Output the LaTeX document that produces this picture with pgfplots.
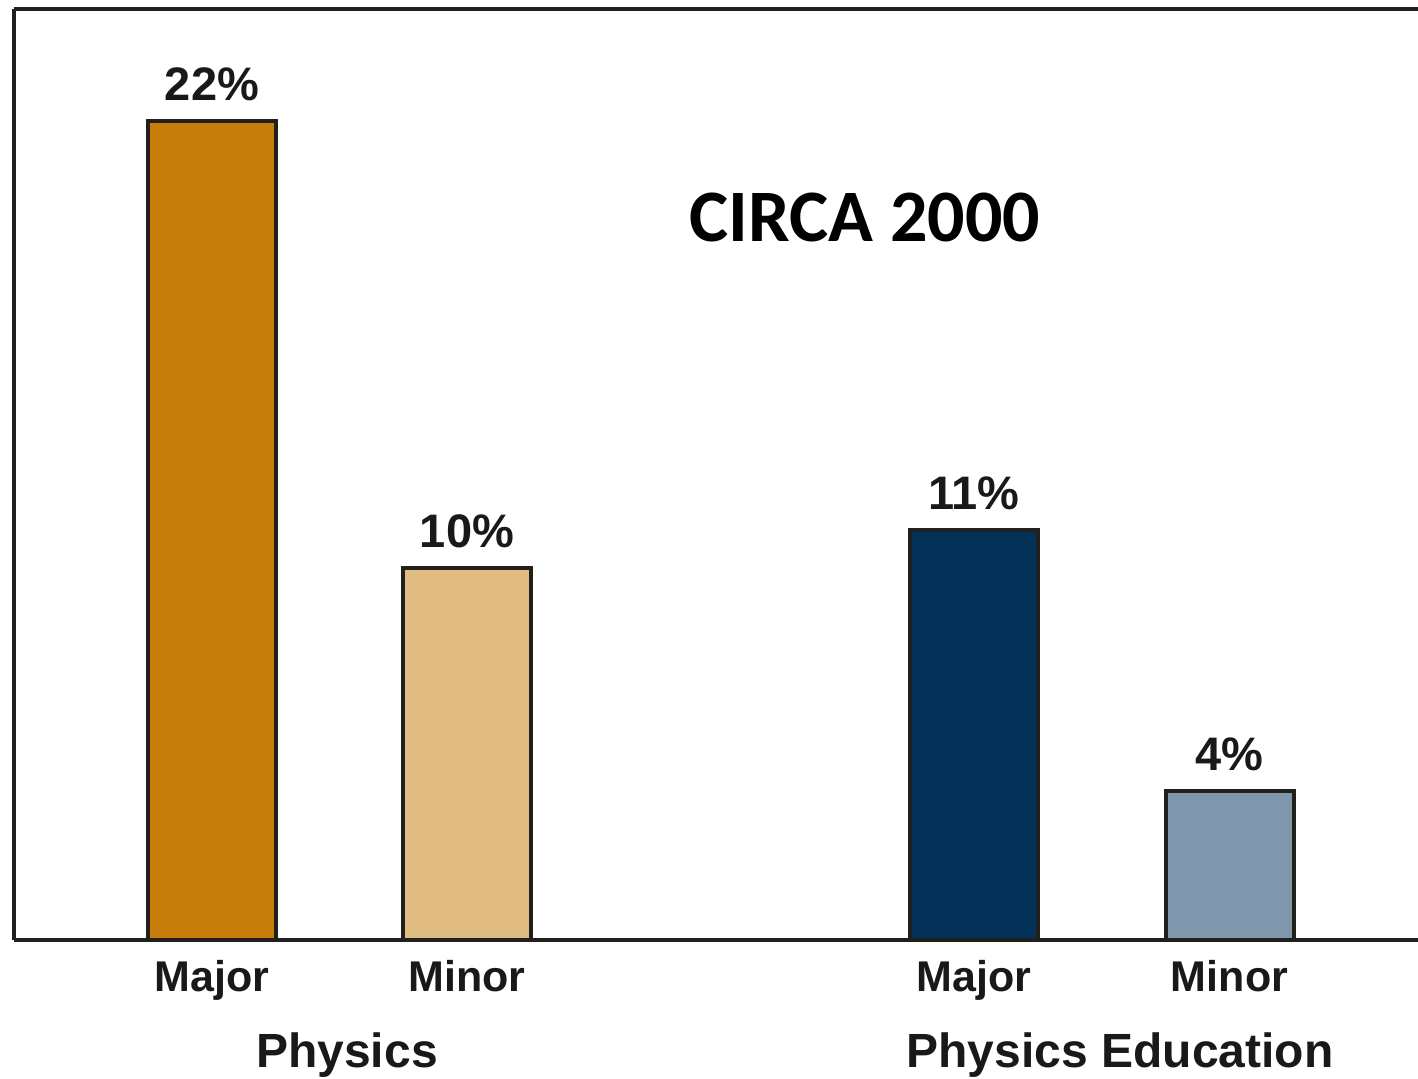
\documentclass[border=0pt]{standalone}
\usepackage{pgfplots}
\pgfplotsset{compat=1.18}
\usepackage{fontspec}
\setmainfont{Liberation Sans}
\newfontfamily\carlito{Carlito}
\definecolor{c1}{RGB}{199,125,10}
\definecolor{c2}{RGB}{224,188,130}
\definecolor{c3}{RGB}{3,48,87}
\definecolor{c4}{RGB}{128,150,172}
\definecolor{edge}{RGB}{35,31,28}
\definecolor{txt}{RGB}{25,25,25}
\begin{document}
\begin{tikzpicture}
\begin{axis}[
 scale only axis, width=702pt, height=465.5pt,
 xmin=14, xmax=1418, ymin=0, ymax=25,
 axis x line*=bottom, axis y line*=left,
 axis line style={line width=2pt, draw=edge},
 ytick=\empty,
 xtick={212,467,974,1229.5},
 xticklabels={Major,Minor,Major,Minor},
 major tick length=0pt,
 xticklabel style={font=\bfseries\fontsize{21.5}{25}\selectfont, inner sep=0pt, yshift=-10pt, text=txt},
 /pgf/number format/assume math mode=true,
 ybar, bar width=64pt,
 nodes near coords={\pgfmathprintnumber{\pgfplotspointmeta}\%},
 every node near coord/.append style={font=\bfseries\fontsize{23.5}{27}\selectfont, inner sep=0pt, yshift=9pt, text=txt},
 clip=false,
]
\addplot[fill=c1, draw=edge, line width=2pt, bar shift=0pt] coordinates {(212,22)};
\addplot[fill=c2, draw=edge, line width=2pt, bar shift=0pt] coordinates {(467,10)};
\addplot[fill=c3, draw=edge, line width=2pt, bar shift=0pt] coordinates {(974,11)};
\addplot[fill=c4, draw=edge, line width=2pt, bar shift=0pt] coordinates {(1229.5,4)};
\draw[line width=2pt, draw=edge] (rel axis cs:0,1) -- (rel axis cs:1,1);
\node[font=\carlito\bfseries\fontsize{37}{42}\selectfont] at (axis cs:865,19.39) {CIRCA 2000};
\node[anchor=north, inner sep=0pt, yshift=-46pt, font=\bfseries\fontsize{24}{28}\selectfont, text=txt] at (axis cs:347,0) {Physics};
\node[anchor=north, inner sep=0pt, yshift=-46pt, font=\bfseries\fontsize{24}{28}\selectfont, text=txt] at (axis cs:1120,0) {Physics Education};
\coordinate (bl) at (rel axis cs:0,0);
\coordinate (tr) at (rel axis cs:1,1);
\end{axis}
\pgfresetboundingbox
\path ([xshift=-7pt,yshift=-69pt]bl) rectangle ([yshift=4.5pt]tr);
\end{tikzpicture}
\end{document}
